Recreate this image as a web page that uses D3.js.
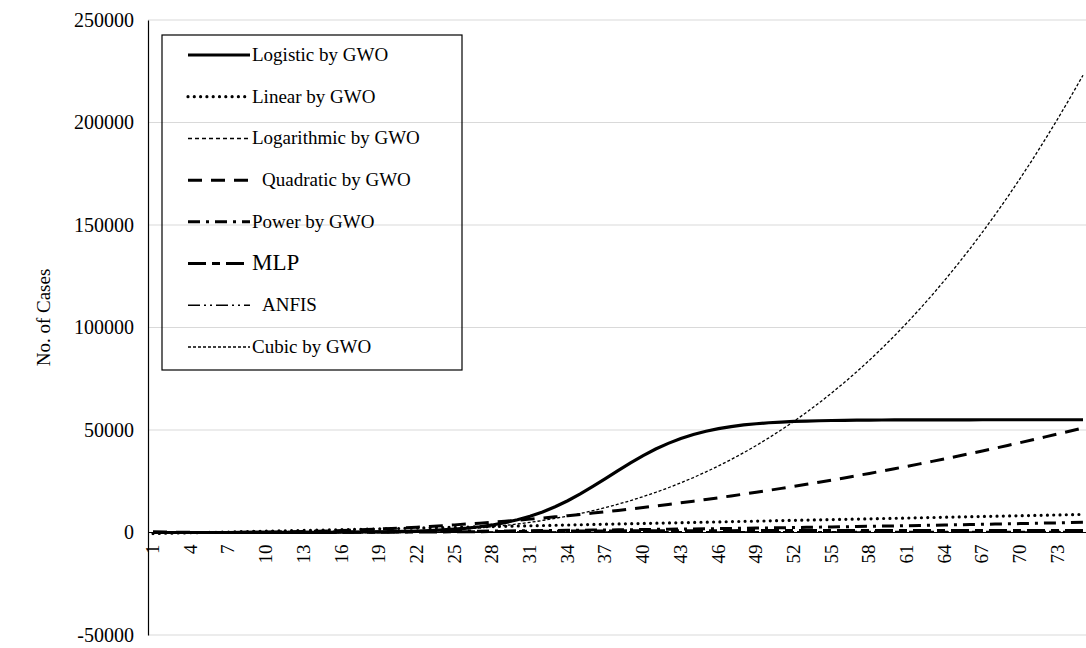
<!DOCTYPE html>
<html>
<head>
<meta charset="utf-8">
<script src="https://cdn.jsdelivr.net/npm/d3@7"></script>
<style>
  body { margin: 0; background: #fff; }
  svg text { font-family: "Times New Roman", "Liberation Serif", "DejaVu Serif", serif !important; }
</style>
</head>
<body>
<svg width="1086" height="648"></svg>
<script>
// days 1..75
const days = d3.range(1, 76);
const yTicks = [-50000, 0, 50000, 100000, 150000, 200000, 250000];

const logistic = [2,2,3,4,6,8,10,14,18,24,32,43,57,75,100,132,175,232,308,408,540,715,945,1250,1640,2160,2820,3680,4790,6200,
  7900,10030,12560,15500,18840,22500,26330,30220,33990,37520,40710,43480,45850,47810,49400,50670,51680,52460,53060,53530,
  53880,54160,54360,54510,54630,54720,54790,54840,54880,54910,54930,54950,54960,54970,54980,54985,54990,54990,54995,54995,
  55000,55000,55000,55000,55000];
const linear = [-504,-378,-252,-126,0,126,252,378,504,630,756,882,1008,1134,1260,1386,1512,1638,1764,1890,2016,2142,2268,2394,2520,
  2646,2772,2898,3024,3150,3276,3402,3528,3654,3780,3906,4032,4158,4284,4410,4536,4662,4788,4914,5040,5166,5292,5418,5544,5670,
  5796,5922,6048,6174,6300,6426,6552,6678,6804,6930,7056,7182,7308,7434,7560,7686,7812,7938,8064,8190,8316,8442,8568,8694,8820];
const logarithmic = [-300,-200,-140,-100,-70,-40,-20,0,20,40,60,70,90,100,120,130,140,160,170,180,190,200,210,220,230,
  240,250,260,270,280,290,300,305,310,320,325,330,340,345,350,355,360,365,370,375,380,385,390,395,400,
  405,410,412,415,420,425,428,430,435,440,442,445,448,450,455,458,460,462,465,468,470,472,475,478,480];
const quadratic = [329,220,133,68,24,3,3,24,68,133,220,329,459,611,785,981,1198,1438,1698,1981,2285,2611,2959,3329,3720,
  4133,4567,5024,5503,6002,6525,7068,7633,8220,8829,9460,10112,10785,11481,12199,12938,13699,14481,15286,16112,16960,17829,18720,19633,20568,
  21524,22502,23502,24524,25567,26632,27719,28827,29958,31110,32284,33479,34696,35935,37196,38478,39783,41109,42456,43826,45217,46630,48065,49522,51000];
const power = [1,4,8,15,23,33,45,59,74,92,111,132,155,180,206,235,265,297,330,366,403,442,483,526,570,
  617,665,714,766,820,875,932,991,1052,1114,1178,1244,1312,1382,1450,1525,1598,1675,1752,1832,1913,1996,2080,2167,2255,
  2344,2435,2528,2622,2718,2815,2914,3015,3117,3221,3326,3433,3542,3652,3764,3877,3992,4108,4226,4345,4466,4588,4712,4837,4963];
const mlp = [0,0,0,0,0,0,0,0,0,10,20,30,40,50,60,80,100,120,140,170,200,230,260,300,340,
  380,420,460,500,540,580,620,650,680,710,740,760,780,800,820,840,860,870,880,890,900,910,920,930,940,
  950,955,960,965,970,975,980,985,990,995,1000,1000,1000,1000,1000,1000,1000,1000,1000,1000,1000,1000,1000,1000,1000];
const anfis = [0,0,0,0,0,0,0,0,0,0,0,0,5,10,15,20,25,30,40,50,60,70,80,90,100,
  110,120,130,140,150,160,170,180,190,200,210,215,220,225,230,235,240,245,250,255,260,265,270,275,280,
  280,280,280,280,280,280,280,280,280,280,280,280,280,280,280,280,280,280,280,280,280,280,280,280,280];
const cubic = [0,0,0,0,0,0,0,0,0,0,0,0,0,0,2,10,32,72,137,232,363,537,758,1032,1367,
  1767,2238,2786,3417,4137,4951,5866,6887,8020,9271,10646,12150,13790,15571,17499,19581,21821,24225,26800,29551,32485,35606,38922,42437,46157,
  50089,54238,58610,63211,68047,73122,78445,84019,89852,95948,102315,108957,115880,123090,130594,138397,146505,154925,163662,172720,182109,191832,201896,212306,223070];

const series = [
  { name: "Logistic by GWO", values: logistic, w: 3.2, dash: null, cap: "butt" },
  { name: "Linear by GWO", values: linear, w: 3.2, dash: "0,6.3", cap: "round" },
  { name: "Logarithmic by GWO", values: logarithmic, w: 1.5, dash: "4,3", cap: "butt" },
  { name: "Quadratic by GWO", values: quadratic, w: 3, dash: "14,9", cap: "butt" },
  { name: "Power by GWO", values: power, w: 3, dash: "12,6,3,6", cap: "butt" },
  { name: "MLP", values: mlp, w: 3, dash: "18,6,8,6", cap: "butt" },
  { name: "ANFIS", values: anfis, w: 1.5, dash: "12,4,2,4,2,4", cap: "butt" },
  { name: "Cubic by GWO", values: cubic, w: 1.3, dash: "3,2", cap: "butt" }
];

const svg = d3.select("svg");
const mLeft = 148, mTop = 20, mBottom = 635;

const x = d3.scalePoint().domain(days).range([153, 1083]);
const y = d3.scaleLinear().domain([-50000, 250000]).range([mBottom, mTop]);

// gridlines
svg.append("g").selectAll("line")
  .data(yTicks)
  .join("line")
  .attr("x1", mLeft).attr("x2", 1086)
  .attr("y1", d => y(d)).attr("y2", d => y(d))
  .attr("stroke", "#d9d9d9").attr("stroke-width", 1);

// y axis
const yAxis = svg.append("g")
  .attr("transform", "translate(" + mLeft + ",0)")
  .call(d3.axisLeft(y).tickValues(yTicks).tickSize(0).tickPadding(14).tickFormat(d => String(d)));
yAxis.select(".domain").attr("stroke", "#000").attr("stroke-width", 1.2);
yAxis.selectAll("text").attr("font-size", 20).attr("fill", "#000");

// zero line
svg.append("line")
  .attr("x1", mLeft).attr("x2", 1086)
  .attr("y1", y(0)).attr("y2", y(0))
  .attr("stroke", "#000").attr("stroke-width", 1.2);

// x tick labels
svg.append("g").selectAll("text")
  .data(days.filter(d => (d - 1) % 3 === 0))
  .join("text")
  .attr("transform", d => "translate(" + (x(d) + 6) + "," + (y(0) + 12) + ") rotate(-90)")
  .attr("text-anchor", "end")
  .attr("font-size", 19)
  .text(d => d);

// y title
svg.append("text")
  .attr("transform", "translate(50," + ((mTop + mBottom) / 2 - 10) + ") rotate(-90)")
  .attr("text-anchor", "middle")
  .attr("font-size", 19)
  .text("No. of Cases");

const line = vals => d3.line()
  .x((d, i) => x(days[i]))
  .y(d => y(d))(vals);

svg.append("g").selectAll("path")
  .data(series.slice().reverse())
  .join("path")
  .attr("d", d => line(d.values))
  .attr("fill", "none")
  .attr("stroke", "#000")
  .attr("stroke-width", d => d.w)
  .attr("stroke-dasharray", d => d.dash)
  .attr("stroke-linecap", d => d.cap);

// legend
const legend = svg.append("g");
legend.append("rect")
  .attr("x", 162).attr("y", 35).attr("width", 300).attr("height", 335)
  .attr("fill", "none").attr("stroke", "#000").attr("stroke-width", 1.2);

const rowY = d3.scalePoint().domain(series.map(d => d.name)).range([55, 347]);
const items = legend.selectAll("g.item")
  .data(series)
  .join("g")
  .attr("class", "item")
  .attr("transform", d => "translate(0," + rowY(d.name) + ")");
items.append("line")
  .attr("x1", 188).attr("x2", 250).attr("y1", 0).attr("y2", 0)
  .attr("stroke", "#000")
  .attr("stroke-width", d => d.w)
  .attr("stroke-dasharray", d => d.dash)
  .attr("stroke-linecap", d => d.cap);
items.append("text")
  .attr("x", d => d.name === "Quadratic by GWO" || d.name === "ANFIS" ? 262 : 252)
  .attr("y", 6)
  .attr("font-size", d => d.name === "MLP" ? 23 : 19)
  .text(d => d.name);
</script>
</body>
</html>
